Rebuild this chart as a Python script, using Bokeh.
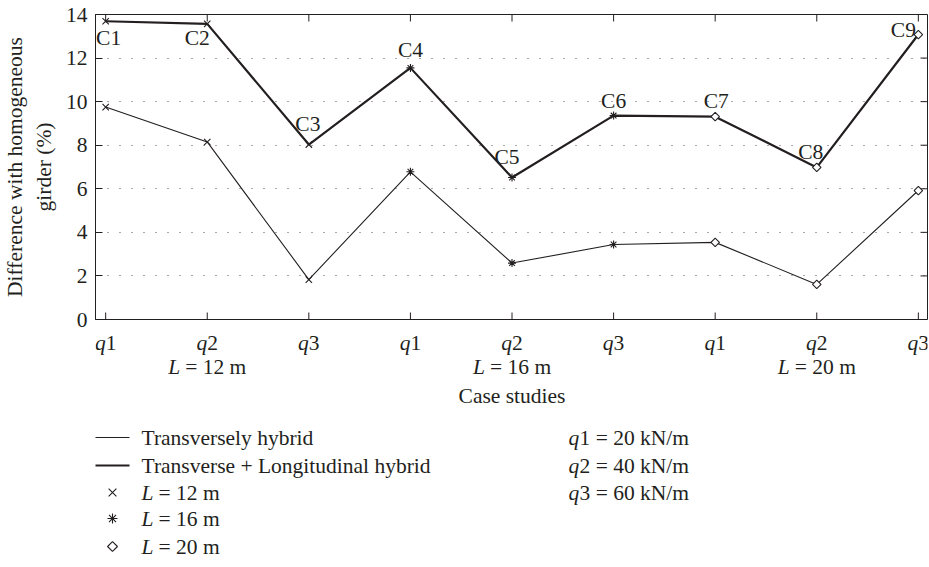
from math import pi
from bokeh.plotting import figure
from bokeh.layouts import column
from bokeh.models import Range1d, FixedTicker
from bokeh.embed import file_html
from bokeh.resources import INLINE
from bokeh.core.properties import value

# ---------------- data ----------------
case_pos = [1, 2, 3, 4, 5, 6, 7, 8, 9]
case_names = ["C1", "C2", "C3", "C4", "C5", "C6", "C7", "C8", "C9"]
load_index = ["1", "2", "3", "1", "2", "3", "1", "2", "3"]
span_names = ["12", "16", "20"]
span_center = [2, 5, 8]
transversely_hybrid = [9.75, 8.15, 1.83, 6.78, 2.59, 3.44, 3.54, 1.61, 5.92]
trans_long_hybrid = [13.69, 13.57, 8.03, 11.55, 6.52, 9.36, 9.31, 6.98, 13.08]
y_ticks = [0, 2, 4, 6, 8, 10, 12, 14]
load_values = ["20", "40", "60"]
series_names = ["Transversely hybrid", "Transverse + Longitudinal hybrid"]

# ---------------- style ----------------
INK = "#231f20"
FONT_NAME = "Times New Roman"
FONT = value(FONT_NAME)
FS = "21.5px"
X0, X1 = 0.9, 9.09
FRAME_L, FRAME_R = 95, 2
PXU = (929 - FRAME_L - FRAME_R) / (X1 - X0)
H1 = 331


def px2x(px):
    return X0 + px / PXU


# case-name label offsets (screen px, text centre relative to the point)
c_offsets = [(3, 17), (-10, 14), (-1, -21), (0, -18), (-5, -20),
             (0, -15), (1, -16), (-6, -15), (-15, -5)]

p = figure(width=929, height=H1, x_range=Range1d(X0, X1), y_range=Range1d(0, 14),
           output_backend="svg", toolbar_location=None, x_axis_location=None,
           min_border_left=FRAME_L, min_border_right=FRAME_R,
           min_border_top=14, min_border_bottom=H1 - 319)
p.outline_line_color = INK
p.outline_line_width = 1
p.outline_line_alpha = 1
p.xgrid.visible = False

ya = p.yaxis[0]
ya.ticker = FixedTicker(ticks=y_ticks)
ya.major_tick_in = 7
ya.major_tick_out = 0
ya.minor_tick_line_color = None
ya.axis_line_color = INK
ya.major_tick_line_color = INK
ya.major_label_text_font = FONT_NAME
ya.major_label_text_font_size = FS
ya.major_label_text_color = INK
ya.major_label_standoff = 8
ya.axis_label = "Difference with homogeneous\ngirder (%)"
ya.axis_label_text_font = FONT_NAME
ya.axis_label_text_font_size = FS
ya.axis_label_text_font_style = "normal"
ya.axis_label_text_color = INK
ya.axis_label_standoff = 7

p.ygrid.grid_line_color = "#555555"
p.ygrid.grid_line_dash = "1 11"
p.ygrid.grid_line_width = 1.2

p.ray(x=case_pos, y=[y_ticks[0]] * 9, length=7, length_units="screen", angle=pi / 2,
      line_color=INK, line_width=1)
p.ray(x=case_pos, y=[y_ticks[-1]] * 9, length=7, length_units="screen", angle=-pi / 2,
      line_color=INK, line_width=1)
p.ray(x=[X1] * len(y_ticks), y=y_ticks, length=7, length_units="screen", angle=pi,
      line_color=INK, line_width=1)

p.line(case_pos, transversely_hybrid, line_color=INK, line_width=1.1)
p.line(case_pos, trans_long_hybrid, line_color=INK, line_width=2.2)

markers = ["x", "asterisk", "square"]
msizes = [9, 8, 6]
angles = [0, 0, pi / 4]
for g in range(3):
    xs = case_pos[3 * g:3 * g + 3]
    for ys in (transversely_hybrid[3 * g:3 * g + 3], trans_long_hybrid[3 * g:3 * g + 3]):
        p.scatter(xs, ys, marker=markers[g], size=msizes[g], angle=angles[g],
                  line_color=INK, fill_color="white", line_width=1.1)

for i in range(9):
    dx, dy = c_offsets[i]
    p.text(x=[case_pos[i]], y=[trans_long_hybrid[i]], text=[case_names[i]],
           x_offset=dx, y_offset=dy, text_align="center", text_baseline="middle",
           text_font=FONT, text_font_size=FS, text_color=INK)

# ---------------- lower panel ----------------
H2 = 567 - H1
p2 = figure(width=929, height=H2, x_range=p.x_range, y_range=Range1d(H2, 0),
            output_backend="svg", toolbar_location=None,
            x_axis_location=None, y_axis_location=None,
            min_border_left=FRAME_L, min_border_right=FRAME_R,
            min_border_top=0, min_border_bottom=0)
p2.outline_line_color = None
p2.grid.visible = False


def cy(canvas_y):
    return canvas_y - H1


def txt(fig, xs, ys, texts, dx=0, align="left", italic=False):
    fig.text(x=xs, y=ys, text=texts, x_offset=dx, text_align=align, text_baseline="middle",
             text_font=FONT, text_font_style="italic" if italic else "normal",
             text_font_size=FS, text_color=INK)


# x tick labels  q1 q2 q3
txt(p2, case_pos, [cy(342.5)] * 9, ["q"] * 9, align="right", italic=True)
txt(p2, case_pos, [cy(342.5)] * 9, load_index, align="left")

# span labels
txt(p2, span_center, [cy(366)] * 3, ["L"] * 3, dx=-27, align="right", italic=True)
txt(p2, span_center, [cy(366)] * 3, ["= %s m" % s for s in span_names], dx=-22)

# x axis title
txt(p2, [span_center[1]], [cy(395)], ["Case studies"], align="center")

# legend
rows = [cy(437), cy(465), cy(492), cy(518), cy(546)]
p2.segment(x0=[px2x(-1)] * 2, x1=[px2x(34)] * 2, y0=rows[:2], y1=rows[:2],
           line_color=INK, line_width=[1.1, 2.2])
txt(p2, [X0] * 2, rows[:2], series_names, dx=46)
leg_sizes = [11, 10, 7]
for g in range(3):
    p2.scatter([px2x(17)], [rows[2 + g]], marker=markers[g], size=leg_sizes[g],
               angle=angles[g], line_color=INK, fill_color="white", line_width=1.1)
    txt(p2, [X0], [rows[2 + g]], ["L"], dx=46, italic=True)
    txt(p2, [X0], [rows[2 + g]], ["= %s m" % span_names[g]], dx=63)
    txt(p2, [X0], [rows[g]], ["q"], dx=473, italic=True)
    txt(p2, [X0], [rows[g]], ["%d = %s kN/m" % (g + 1, load_values[g])], dx=484)

layout = column(p, p2, spacing=0)
open("out.html", "w").write(file_html(layout, INLINE))
